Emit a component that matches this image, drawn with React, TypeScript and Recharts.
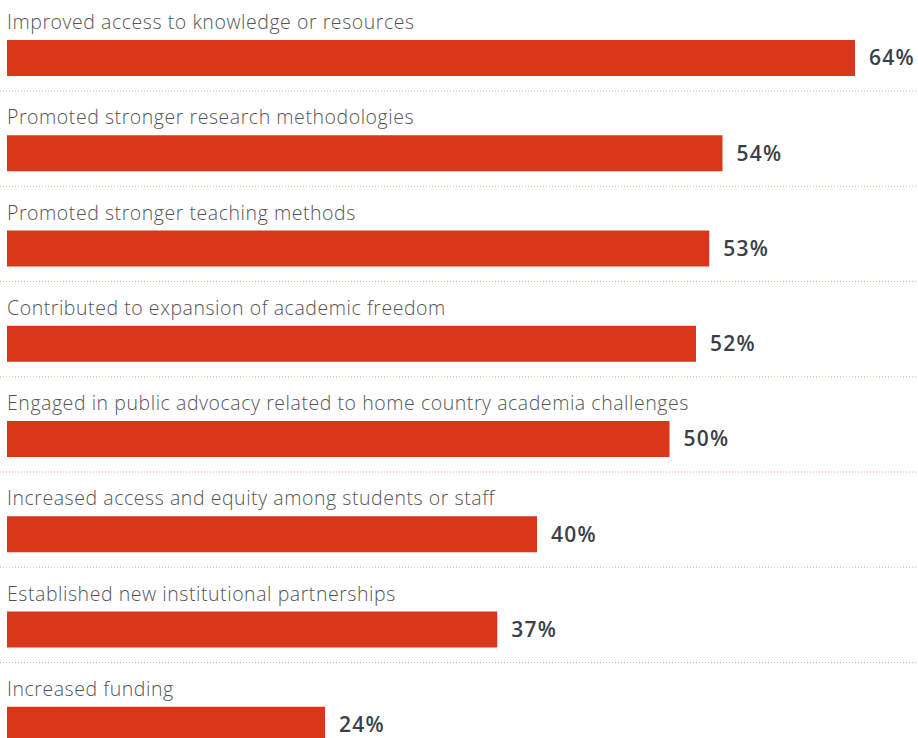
import { Bar, BarChart, LabelList, XAxis, YAxis } from "recharts";

const categories = [
  "Improved access to knowledge or resources",
  "Promoted stronger research methodologies",
  "Promoted stronger teaching methods",
  "Contributed to expansion of academic freedom",
  "Engaged in public advocacy related to home country academia challenges",
  "Increased access and equity among students or staff",
  "Established new institutional partnerships",
  "Increased funding",
];

const shares = [64, 54, 53, 52, 50, 40, 37, 24];

const BAR_COLOR = "#d9361a";
const FONT = "'Open Sans', Lato, sans-serif";

const data = categories.map((name, i) => ({ name, value: shares[i] }));

// bar plus the dotted row separator under it
function RowBar(props: any) {
  const { x, y, width, height, isLast } = props;
  return (
    <g>
      <rect x={x} y={y} width={width} height={height} fill={BAR_COLOR} />
      {!isLast && (
        <line
          x1={0}
          x2={918}
          y1={y + height + 15}
          y2={y + height + 15}
          stroke="#e6ab95"
          strokeWidth={1}
          strokeDasharray="1 2"
        />
      )}
    </g>
  );
}

function CategoryLabel(props: any) {
  const { x, y, value } = props;
  return (
    <text
      x={x}
      y={y - 11}
      fill="#555555"
      fontSize={19.5}
      fontFamily={FONT}
      fontWeight={300}
      letterSpacing={0.55}
    >
      {value}
    </text>
  );
}

export default function App() {
  return (
    <div
      style={{
        position: "absolute",
        left: 0,
        top: 0,
        width: 918,
        height: 738,
        overflow: "hidden",
        background: "#fff",
      }}
    >
      <BarChart
        width={918}
        height={780}
        data={data.map((d, i) => ({ ...d, isLast: i === data.length - 1 }))}
        layout="vertical"
        margin={{ top: 10, right: 10, bottom: 8, left: 7 }}
      >
        <XAxis type="number" domain={[0, 68]} hide />
        <YAxis type="category" dataKey="name" hide />
        <Bar
          dataKey="value"
          barSize={36}
          isAnimationActive={false}
          shape={(p: any) => <RowBar {...p} isLast={p.payload?.isLast} />}
        >
          <LabelList dataKey="name" content={<CategoryLabel />} />
          <LabelList
            dataKey="value"
            position="right"
            offset={14}
            formatter={(v: any) => `${v}%`}
            fill="#3a3f4a"
            fontSize={21}
            fontWeight={600}
            fontFamily={FONT}
            letterSpacing={1.2}
          />
        </Bar>
      </BarChart>
    </div>
  );
}
